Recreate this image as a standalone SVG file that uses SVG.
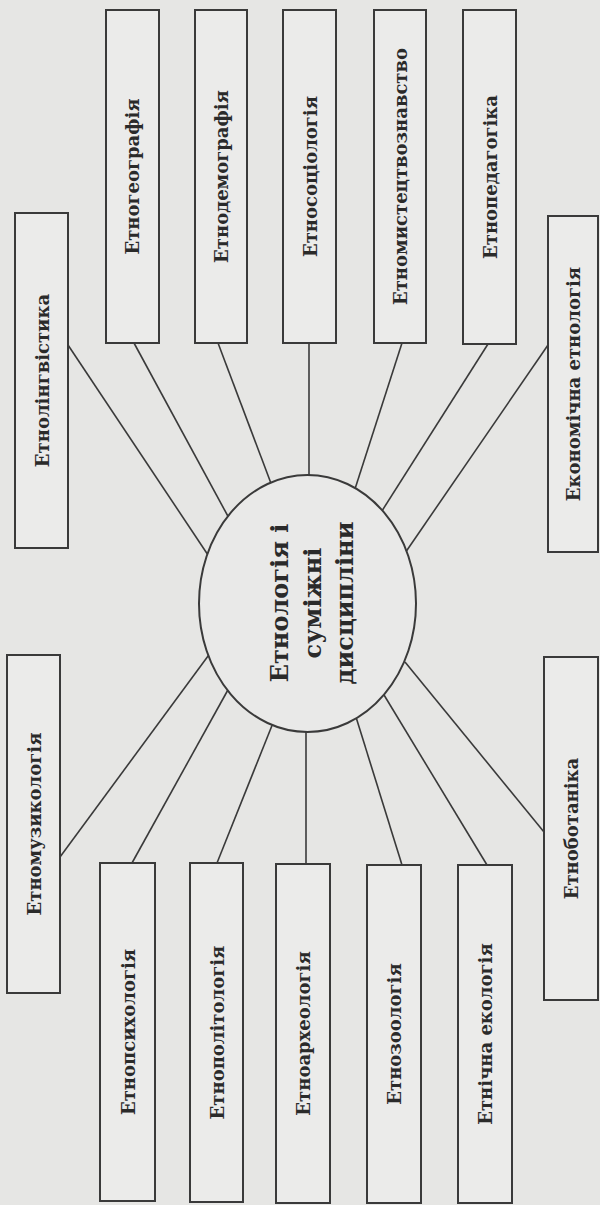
<svg xmlns="http://www.w3.org/2000/svg" width="600" height="1205" viewBox="0 0 600 1205">
<style>
.bx{fill:#ebebea;stroke:#3a3a3a;stroke-width:2}
.lb{font-family:"DejaVu Serif",serif;font-weight:bold;font-size:18px;fill:#2a2a2a;text-anchor:middle;dominant-baseline:central}
.ct{font-family:"DejaVu Serif",serif;font-weight:bold;font-size:24px;fill:#2a2a2a;text-anchor:middle;dominant-baseline:central}
.cn line{stroke:#3a3a3a;stroke-width:1.6}
</style>
<rect x="0" y="0" width="600" height="1205" fill="#e6e6e4"/>
<g class="cn" id="connectors">
<line x1="68" y1="345" x2="210" y2="558"/>
<line x1="134" y1="343" x2="230" y2="520"/>
<line x1="218" y1="343" x2="272" y2="486"/>
<line x1="309" y1="343" x2="309" y2="480"/>
<line x1="402" y1="343" x2="354" y2="492"/>
<line x1="488" y1="344" x2="380" y2="514"/>
<line x1="548" y1="345" x2="403" y2="556"/>
<line x1="60" y1="857" x2="211" y2="652"/>
<line x1="132" y1="863" x2="229" y2="688"/>
<line x1="217" y1="863" x2="273" y2="723"/>
<line x1="306" y1="864" x2="306" y2="727"/>
<line x1="402" y1="865" x2="356" y2="717"/>
<line x1="487" y1="865" x2="381" y2="690"/>
<line x1="544" y1="832" x2="405" y2="662"/>
</g>
<g id="center">
<ellipse cx="307.5" cy="603.5" rx="108.5" ry="128.5" fill="#e9e9e8" stroke="#3a3a3a" stroke-width="2"/>
<text class="ct" transform="translate(279,603) rotate(-90)">Етнологія і</text>
<text class="ct" transform="translate(312,603) rotate(-90)">суміжні</text>
<text class="ct" transform="translate(344,603) rotate(-90)">дисципліни</text>
</g>
<g id="n-lingv"><rect class="bx" x="15" y="213" width="53" height="335"/><text class="lb" transform="translate(42,380.5) rotate(-90)">Етнолінгвістика</text></g>
<g id="n-geogr"><rect class="bx" x="106" y="10" width="53" height="333"/><text class="lb" transform="translate(132.5,176.5) rotate(-90)">Етногеографія</text></g>
<g id="n-demogr"><rect class="bx" x="195" y="10" width="52" height="333"/><text class="lb" transform="translate(221.5,176.5) rotate(-90)">Етнодемографія</text></g>
<g id="n-sociol"><rect class="bx" x="283" y="10" width="53" height="333"/><text class="lb" transform="translate(310,176.5) rotate(-90)">Етносоціологія</text></g>
<g id="n-mystets"><rect class="bx" x="374" y="10" width="52" height="333"/><text class="lb" transform="translate(400.5,176.5) rotate(-90)">Етномистецтвознавство</text></g>
<g id="n-pedag"><rect class="bx" x="463" y="10" width="53" height="334"/><text class="lb" transform="translate(490,177) rotate(-90)">Етнопедагогіка</text></g>
<g id="n-ekon"><rect class="bx" x="548" y="216" width="50" height="336"/><text class="lb" transform="translate(573.5,384) rotate(-90)">Економічна етнологія</text></g>
<g id="n-muzyk"><rect class="bx" x="7" y="655" width="53" height="338"/><text class="lb" transform="translate(34,824) rotate(-90)">Етномузикологія</text></g>
<g id="n-psych"><rect class="bx" x="100" y="863" width="55" height="338"/><text class="lb" transform="translate(128,1032) rotate(-90)">Етнопсихологія</text></g>
<g id="n-polit"><rect class="bx" x="190" y="863" width="53" height="339"/><text class="lb" transform="translate(217,1032.5) rotate(-90)">Етнополітологія</text></g>
<g id="n-arch"><rect class="bx" x="276" y="864" width="54" height="339"/><text class="lb" transform="translate(303.5,1033.5) rotate(-90)">Етноархеологія</text></g>
<g id="n-zool"><rect class="bx" x="367" y="865" width="54" height="338"/><text class="lb" transform="translate(394.5,1034) rotate(-90)">Етнозоологія</text></g>
<g id="n-ekol"><rect class="bx" x="458" y="865" width="54" height="338"/><text class="lb" transform="translate(485.5,1034) rotate(-90)">Етнічна екологія</text></g>
<g id="n-botan"><rect class="bx" x="544" y="657" width="54" height="343"/><text class="lb" transform="translate(571.5,828.5) rotate(-90)">Етноботаніка</text></g>
</svg>
